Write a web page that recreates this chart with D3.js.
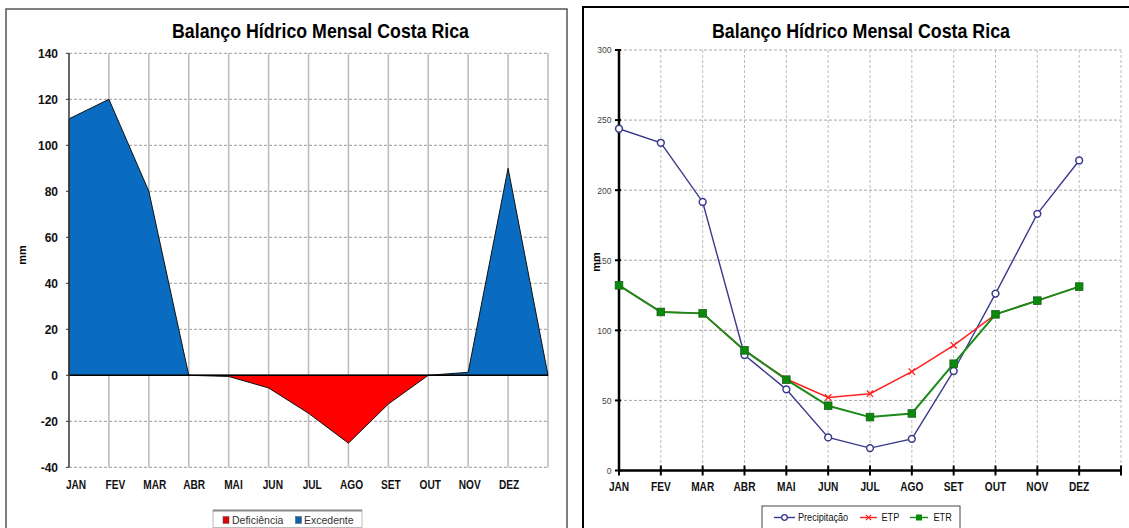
<!DOCTYPE html>
<html><head><meta charset="utf-8">
<script src="https://cdn.jsdelivr.net/npm/d3@7"></script>
<style>
html,body{margin:0;padding:0;background:#fff;}
svg{display:block;}
text{font-family:"Liberation Sans",Arial,sans-serif;}
</style></head>
<body>
<svg id="c" width="1129" height="528"></svg>
<script>
// ---------- DATA ----------
const title = "Balanço Hídrico Mensal Costa Rica";
const months = ["JAN","FEV","MAR","ABR","MAI","JUN","JUL","AGO","SET","OUT","NOV","DEZ"];
// left chart (13 positions: 12 months + closing point)
const excedente   = [111.5, 120, 80, 0, 0, 0, 0, 0, 0, 0, 1.3, 90, 0];
const deficiencia = [0, 0, 0, 0, -0.5, -5.5, -16.5, -29.5, -12.5, 0, 0, 0, 0];
const leftTicks = [-40, -20, 0, 20, 40, 60, 80, 100, 120, 140];
// right chart
const precipitacao = [243.8, 233.8, 191.6, 82.4, 57.9, 23.6, 16.0, 22.6, 71.0, 126.2, 183.1, 221.2];
const etp          = [132.1, 113.1, 112.1, 85.7, 65.3, 52.1, 54.8, 70.5, 89.3, 111.4, 121.2, 131.2];
const etr          = [132.1, 113.1, 112.1, 85.7, 64.8, 46.2, 38.1, 40.7, 76.2, 111.4, 121.2, 131.2];
const rightTicks = [0, 50, 100, 150, 200, 250, 300];
const leftLegend = ["Deficiência", "Excedente"];
const rightLegend = ["Precipitação", "ETP", "ETR"];

const svg = d3.select("#c");
svg.append("rect").attr("width",1129).attr("height",528).attr("fill","#fff");

function txt(g, x, y, s, o) {
  o = o || {};
  const t = g.append("text")
    .attr("transform", `translate(${x},${y})` + (o.rot ? ` rotate(${o.rot})` : "") + ` scale(${o.sx||1},1)`)
    .attr("text-anchor", o.anchor || "start")
    .attr("font-size", o.size || 12)
    .attr("font-weight", o.bold ? "bold" : "normal")
    .attr("fill", o.fill || "#000")
    .text(s);
  if (o.mid) t.attr("dy", "0.35em");
  if (o.len) t.attr("textLength", o.len).attr("lengthAdjust", "spacingAndGlyphs");
  return t;
}

// ================= LEFT CHART =================
{
  const g = svg.append("g");
  g.append("rect").attr("x",6).attr("y",9).attr("width",561).attr("height",540)
    .attr("fill","none").attr("stroke","#555").attr("stroke-width",1.5);
  txt(g, 320.5, 37.5, title, {anchor:"middle", size:21, bold:true, len:297});

  const x = d3.scaleLinear().domain([0, 12]).range([69, 548]);
  const y = d3.scaleLinear().domain([-40, 140]).range([467.3, 53.3]);

  // horizontal dashed gridlines
  g.selectAll(".hg").data(leftTicks).join("line")
    .attr("x1", x(0)).attr("x2", x(12)).attr("y1", d=>y(d)).attr("y2", d=>y(d))
    .attr("stroke","#9a9a9a").attr("stroke-width",1).attr("stroke-dasharray","3,2");
  // vertical solid gridlines
  g.selectAll(".vg").data(d3.range(1, 13)).join("line")
    .attr("x1", d=>x(d)).attr("x2", d=>x(d)).attr("y1", y(140)).attr("y2", y(-40))
    .attr("stroke","#bdbdbd").attr("stroke-width",1.6);

  const area = d3.area().x((d,i)=>x(i)).y0(y(0)).y1(d=>y(d));
  g.append("path").datum(excedente).attr("d", area)
    .attr("fill","#0a6cc0").attr("stroke","#111").attr("stroke-width",1);
  g.append("path").datum(deficiencia).attr("d", area)
    .attr("fill","#ff0000").attr("stroke","#111").attr("stroke-width",1);

  // zero line
  g.append("line").attr("x1",x(0)).attr("x2",x(12)).attr("y1",y(0)).attr("y2",y(0))
    .attr("stroke","#000").attr("stroke-width",1.3);
  // y axis
  g.append("line").attr("x1",x(0)).attr("x2",x(0)).attr("y1",y(140)).attr("y2",y(-40))
    .attr("stroke","#333").attr("stroke-width",1.5);
  g.selectAll(".yt").data(leftTicks).join("line")
    .attr("x1", x(0)-3).attr("x2", x(0)).attr("y1", d=>y(d)).attr("y2", d=>y(d))
    .attr("stroke","#333").attr("stroke-width",1);
  leftTicks.forEach(v => txt(g, 58, y(v), String(v), {anchor:"end", size:12, bold:true, mid:true, fill:"#111"}));
  months.forEach((m,i) => txt(g, x(i) + 7 - i*0.55, 489.3, m, {anchor:"middle", size:13, bold:true, sx:0.78, fill:"#111"}));
  txt(g, 26, 255, "mm", {anchor:"middle", size:11, bold:true, rot:-90});

  // legend
  const lg = g.append("g");
  lg.append("rect").attr("x",213).attr("y",510.5).attr("width",149).attr("height",17)
    .attr("fill","#fff").attr("stroke","#bbb").attr("stroke-width",1);
  lg.append("line").attr("x1",213).attr("x2",362).attr("y1",510.5).attr("y2",510.5)
    .attr("stroke","#888").attr("stroke-width",2);
  const lcol = ["#e00000", "#1060b0"];
  const lx = [223, 295.5], tx = [232, 304];
  leftLegend.forEach((s,i) => {
    lg.append("rect").attr("x", lx[i]).attr("y", 516.5).attr("width",6).attr("height",7)
      .attr("fill", lcol[i]).attr("stroke","#555").attr("stroke-width",0.5);
    txt(lg, tx[i], 520, s, {size:10.5, mid:true, fill:"#333"});
  });
}

// ================= RIGHT CHART =================
{
  const g = svg.append("g");
  g.append("rect").attr("x",583).attr("y",7).attr("width",560).attr("height",540)
    .attr("fill","none").attr("stroke","#000").attr("stroke-width",2);
  txt(g, 861, 37.5, title, {anchor:"middle", size:21, bold:true, len:298});

  const x = d3.scaleLinear().domain([0, 12]).range([619, 1121]);
  const y = d3.scaleLinear().domain([0, 300]).range([470.5, 50]);

  // gridlines
  g.selectAll(".hg").data(rightTicks.filter(d=>d>0)).join("line")
    .attr("x1", x(0)).attr("x2", x(12)).attr("y1", d=>y(d)).attr("y2", d=>y(d))
    .attr("stroke","#a8a8a8").attr("stroke-width",1).attr("stroke-dasharray","3,2");
  g.selectAll(".vg").data(d3.range(1, 13)).join("line")
    .attr("x1", d=>x(d)).attr("x2", d=>x(d)).attr("y1", y(300)).attr("y2", y(0))
    .attr("stroke","#bdbdbd").attr("stroke-width",1).attr("stroke-dasharray","3,2");

  // axes
  g.append("line").attr("x1",x(0)).attr("x2",x(12)).attr("y1",y(0)).attr("y2",y(0))
    .attr("stroke","#000").attr("stroke-width",2.5);
  g.append("line").attr("x1",x(0)).attr("x2",x(0)).attr("y1",y(300)).attr("y2",y(0))
    .attr("stroke","#000").attr("stroke-width",2.5);
  g.selectAll(".xt").data(d3.range(0, 13)).join("line")
    .attr("x1", d=>x(d)).attr("x2", d=>x(d)).attr("y1", y(0)-5).attr("y2", y(0)+5)
    .attr("stroke","#000").attr("stroke-width",2);
  g.selectAll(".yt").data(rightTicks).join("line")
    .attr("x1", x(0)-4).attr("x2", x(0)+2).attr("y1", d=>y(d)).attr("y2", d=>y(d))
    .attr("stroke","#000").attr("stroke-width",2);
  rightTicks.forEach(v => txt(g, 611.5, y(v), String(v), {anchor:"end", size:9.5, mid:true, fill:"#444", sx:0.9}));
  months.forEach((m,i) => txt(g, x(i), 491, m, {anchor:"middle", size:13, bold:true, sx:0.78, fill:"#111"}));
  txt(g, 600, 262, "mm", {anchor:"middle", size:11, bold:true, rot:-90});

  const line = d3.line().x((d,i)=>x(i)).y(d=>y(d));
  const cP = "#3a3a8c", cE = "#ff2020", cR = "#1a8a1a";

  // Precipitação
  g.append("path").datum(precipitacao).attr("d", line)
    .attr("fill","none").attr("stroke",cP).attr("stroke-width",1.4);
  g.selectAll(".pm").data(precipitacao).join("circle")
    .attr("cx",(d,i)=>x(i)).attr("cy",d=>y(d)).attr("r",3.4)
    .attr("fill","#fff").attr("stroke",cP).attr("stroke-width",1.5);
  // ETP
  g.append("path").datum(etp).attr("d", line)
    .attr("fill","none").attr("stroke",cE).attr("stroke-width",1.5);
  const cross = d3.symbol().type(d3.symbolX).size(28);
  g.selectAll(".em").data(etp).join("path")
    .attr("transform",(d,i)=>`translate(${x(i)},${y(d)})`).attr("d", cross)
    .attr("fill","none").attr("stroke",cE).attr("stroke-width",1.3);
  // ETR
  g.append("path").datum(etr).attr("d", line)
    .attr("fill","none").attr("stroke",cR).attr("stroke-width",2);
  g.selectAll(".rm").data(etr).join("rect")
    .attr("x",(d,i)=>x(i)-3.8).attr("y",d=>y(d)-3.8).attr("width",7.6).attr("height",7.6)
    .attr("fill","#0a8a0a").attr("stroke","#1b5e1b").attr("stroke-width",0.8);

  // legend
  const lg = g.append("g");
  lg.append("rect").attr("x",762).attr("y",506).attr("width",198).attr("height",30)
    .attr("fill","#fff").attr("stroke","#444").attr("stroke-width",1);
  const ly = 517.5;
  const samp = [[774,795],[860,877],[910,928]];
  const tpos = [798, 881.5, 933.5];
  const cols = [cP, cE, cR];
  rightLegend.forEach((s,i) => {
    lg.append("line").attr("x1",samp[i][0]).attr("x2",samp[i][1]).attr("y1",ly).attr("y2",ly)
      .attr("stroke",cols[i]).attr("stroke-width",1.4);
    const cx = (samp[i][0]+samp[i][1])/2;
    if (i===0) lg.append("circle").attr("cx",cx).attr("cy",ly).attr("r",2.8)
      .attr("fill","#fff").attr("stroke",cP).attr("stroke-width",1.3);
    if (i===1) lg.append("path").attr("transform",`translate(${cx},${ly})`)
      .attr("d", d3.symbol().type(d3.symbolX).size(20)).attr("fill","none").attr("stroke",cE).attr("stroke-width",1.2);
    if (i===2) lg.append("rect").attr("x",cx-3).attr("y",ly-3).attr("width",6).attr("height",6).attr("fill","#0a8a0a");
    txt(lg, tpos[i], ly, s, {size:11, mid:true, sx:0.83, fill:"#111"});
  });
}
</script>
</body></html>
